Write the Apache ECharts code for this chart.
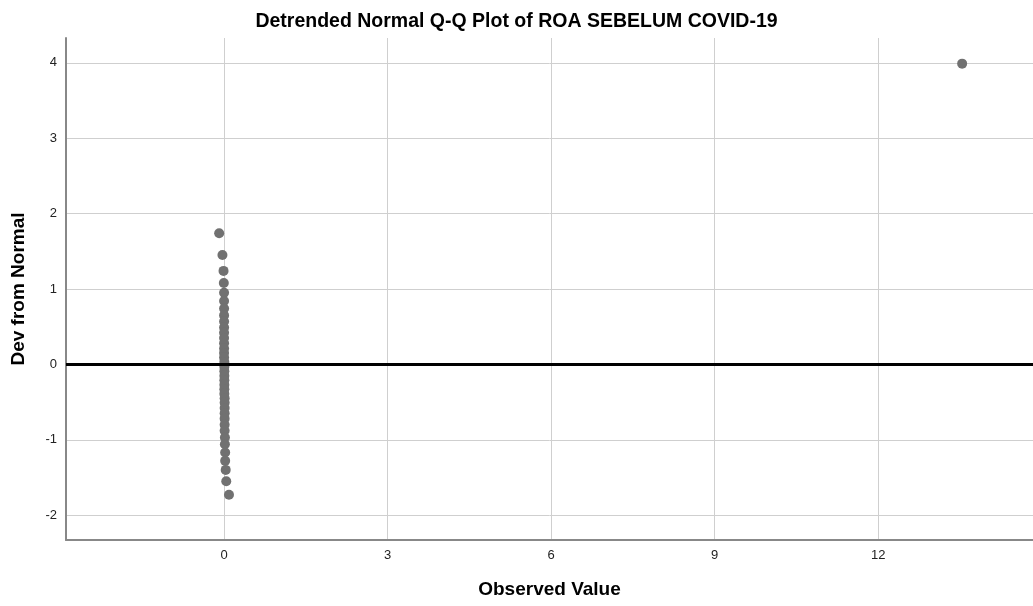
<!DOCTYPE html>
<html>
<head>
<meta charset="utf-8">
<script src="https://cdn.jsdelivr.net/npm/echarts@6/dist/echarts.min.js"></script>
<style>html,body{margin:0;padding:0;background:#fff}#c{width:1033px;height:606px}</style>
</head>
<body>
<div id="c"></div>
<script>
var observed = [-0.09,-0.03,-0.01,-0.005,0,0,0,0,0,0,0,0,0,0,0,0,0.005,0.005,0.005,0.005,0.005,0.005,0.005,0.005,0.01,0.01,0.01,0.01,0.01,0.01,0.01,0.015,0.015,0.02,0.02,0.03,0.04,0.09,13.54];
var devFromNormal = [1.74,1.45,1.24,1.08,0.95,0.84,0.74,0.65,0.57,0.49,0.42,0.35,0.28,0.21,0.15,0.09,0.03,-0.03,-0.09,-0.15,-0.21,-0.27,-0.33,-0.39,-0.45,-0.51,-0.58,-0.65,-0.72,-0.80,-0.88,-0.97,-1.06,-1.17,-1.28,-1.40,-1.55,-1.73,3.99];
var xTicks = [0,3,6,9,12];
var yTicks = [-2,-1,0,1,2,3,4];
var referenceLine = 0;

var pts = observed.map(function(v,i){return [v, devFromNormal[i]];});
var font = 'Liberation Sans, Arial, sans-serif';
var chart = echarts.init(document.getElementById('c'));
chart.setOption({
  animation:false,
  title:{text:'Detrended Normal Q-Q Plot of ROA SEBELUM COVID-19', left:'center', top:7,
    textStyle:{fontFamily:font, fontSize:19.5, fontWeight:'bold', color:'#000'}},
  grid:{left:66, right:0, top:38, bottom:66},
  xAxis:{type:'value', min:-2.9, max:14.84,
    name:'Observed Value', nameLocation:'middle', nameGap:40,
    nameTextStyle:{fontFamily:font, fontSize:19, fontWeight:'bold', color:'#000'},
    axisLine:{show:true, onZero:false, lineStyle:{color:'#888', width:2}},
    axisTick:{show:false, customValues:xTicks},
    axisLabel:{customValues:xTicks, fontFamily:font, fontSize:13, color:'#222', margin:9},
    splitLine:{show:true, lineStyle:{color:'#cfcfcf', width:1}}},
  yAxis:{type:'value', min:-2.33, max:4.33,
    name:'Dev from Normal', nameLocation:'middle', nameGap:38,
    nameTextStyle:{fontFamily:font, fontSize:19, fontWeight:'bold', color:'#000'},
    axisLine:{show:true, onZero:false, lineStyle:{color:'#888', width:2}},
    axisTick:{show:false, customValues:yTicks},
    axisLabel:{customValues:yTicks, fontFamily:font, fontSize:13, color:'#222', margin:9},
    splitLine:{show:true, lineStyle:{color:'#cfcfcf', width:1}}},
  series:[{type:'scatter', data:pts, symbolSize:10,
    itemStyle:{color:'#717171', opacity:1},
    markLine:{silent:true, symbol:'none', label:{show:false},
      lineStyle:{color:'#000', width:3, type:'solid'},
      data:[{yAxis:referenceLine}]}}]
});
</script>
</body>
</html>
